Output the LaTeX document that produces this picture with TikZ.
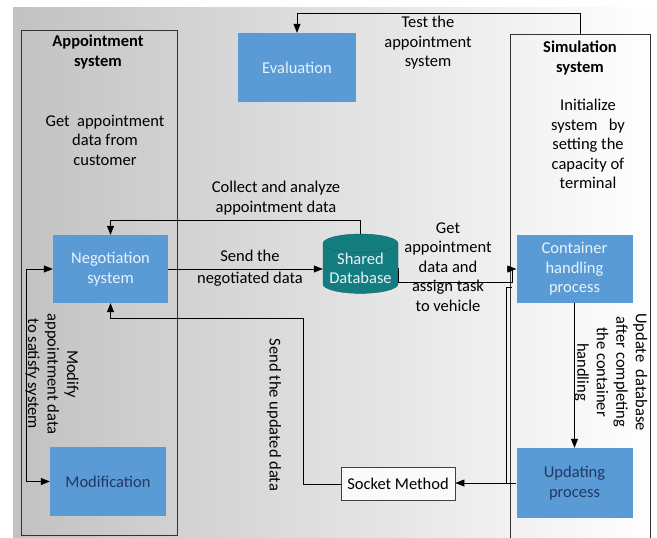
\documentclass[tikz,border=0pt]{standalone}
\usepackage{fontspec}
\setmainfont{Carlito}
\usetikzlibrary{arrows.meta,shapes.geometric,calc}
\definecolor{boxblue}{RGB}{91,155,213}
\definecolor{dbteal}{RGB}{20,125,128}
\definecolor{navy}{RGB}{32,56,100}
\definecolor{paletxt}{RGB}{232,242,252}

\begin{document}
\begin{tikzpicture}[x=1pt,y=-1pt,
    txt/.style={font=\fontsize{16.5}{19.5}\selectfont,align=center,inner sep=0pt},
    sysbox/.style={draw=black!80,line width=0.8pt},
    proc/.style={txt,fill=boxblue,minimum width=116pt,minimum height=68pt},
    conn/.style={draw,line width=0.7pt,-{Triangle[length=9pt,width=7pt]}}]
    \useasboundingbox (0,0) rectangle (657,538);
    \shade[left color=gray!48,right color=white] (13,7) rectangle (657,538);

    % the two systems
    \node[sysbox,minimum width=156pt,minimum height=505pt] (app) at (99,282.5) {};
    \node[sysbox,minimum width=140pt,minimum height=511pt] (sim) at (580,289.5) {};
    \node[txt,font=\fontsize{16.5}{19.5}\selectfont\bfseries] (apptitle) at (98,52) {Appointment\\system};
    \node[txt] (getcust) at (105,140) {Get~~appointment\\data from\\customer};
    \node[txt,font=\fontsize{16.5}{19.5}\selectfont\bfseries] (simtitle) at (580,58) {Simulation\\system};
    \node[txt] (init) at (588,144) {Initialize\\system~~~by\\setting the\\capacity of\\terminal};

    % processes
    \node[proc,text=paletxt,minimum width=118pt,minimum height=69pt] (eval) at (297,67.5) {Evaluation};
    \node[proc,text=paletxt,minimum width=115pt] (neg) at (110.5,269) {Negotiation\\system};
    \node[proc,text=navy,minimum height=69pt] (mod) at (108,481.5) {Modification};
    \node[proc,text=paletxt] (cont) at (574.5,269) {Container\\handling\\process};
    \node[proc,text=navy,minimum height=70pt] (upd) at (574.5,483) {Updating\\process};
    \node[txt,draw=black!75,fill=white!96!gray,line width=0.8pt,minimum width=114pt,minimum height=33pt] (sock) at (398,484) {Socket Method};
    \node[txt,cylinder,shape border rotate=90,aspect=0.3,fill=dbteal,draw=dbteal!80!black,
      text=paletxt,minimum width=75pt,minimum height=56pt] (db) at (360.5,268.5) {Shared\\Database};

    % connectors
    \draw[conn] (sim.north) -- ++(0,-20) -| (eval.north);
    \draw[conn] (db.north) -- ++(0,-14) -| (neg.north);
    \draw[conn] (neg.east) -- (neg.east -| db.west);
    \draw[conn] (db.east) -- ++(0,14) -- ++(114,0) |- (cont.west);
    \draw[conn] (cont.south) -- (upd.north);
    \draw[conn] (upd.west) -- (upd.west -| sock.east);
    \draw[line width=0.7pt] ($(upd.west)+(-10,0)$) -- ++(0,-196) -- ++(6,0);
    \coordinate (upbend) at (303,318);
    \draw[conn] (sock.west) -| (upbend) -| (neg.south);
    \draw[conn,{Triangle[length=9pt,width=7pt]}-{Triangle[length=9pt,width=7pt]}]
      (neg.west) -- ++(-26,0) |- (mod.west);

    % labels
    \node[txt] (testlbl) at (428,43) {Test the\\appointment\\system};
    \node[txt] (collectlbl) at (276,198) {Collect and analyze\\appointment data};
    \node[txt] (sendlbl) at (250,268) {Send the\\[2pt]negotiated data};
    \node[txt] (getlbl) at (448,267) {Get\\appointment\\data and\\assign task\\to vehicle};
    \node[txt,rotate=-90] (updlbl) at (274,415) {Send the updated data};
    \node[txt,rotate=-90] (modlbl) at (52,374) {Modify\\appointment data\\to satisfy system};
    \node[txt,rotate=-90] (dblbl) at (611,372) {Update~~database\\after completing\\the container\\handling};
\end{tikzpicture}
\end{document}
